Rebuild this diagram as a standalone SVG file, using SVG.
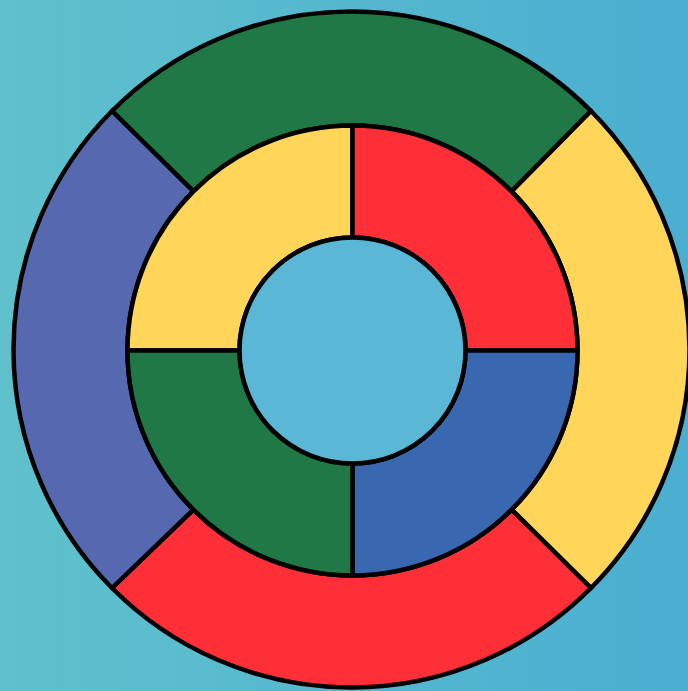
<svg xmlns="http://www.w3.org/2000/svg" width="688" height="691" viewBox="0 0 688 691">
  <defs>
    <linearGradient id="bg" x1="0" y1="0" x2="1" y2="0">
      <stop offset="0" stop-color="#60c1cc"/>
      <stop offset="1" stop-color="#4aaed1"/>
    </linearGradient>
    <style>
      .seg { stroke: #000; stroke-width: 4.5; stroke-linejoin: round; }
      .green { fill: #1f7845; }
      .yellow { fill: #ffd659; }
      .red { fill: #ff2f37; }
      .violet { fill: #5568b0; }
      .blue { fill: #3a68b0; }
      .hole { fill: #5ab7d6; }
    </style>
  </defs>
  <rect width="688" height="691" fill="url(#bg)"/>
  <g id="outer-ring">
    <g id="outer-top"><path class="seg green" d="M 112 111 A 338 338 0 0 1 591 111 L 511.6 191.4 A 225 225 0 0 0 193.4 191.4 Z"/></g>
    <g id="outer-right"><path class="seg yellow" d="M 591 111 A 338 338 0 0 1 591 588 L 511.6 509.6 A 225 225 0 0 0 511.6 191.4 Z"/></g>
    <g id="outer-bottom"><path class="seg red" d="M 591 588 A 338 338 0 0 1 112 588 L 193.4 509.6 A 225 225 0 0 0 511.6 509.6 Z"/></g>
    <g id="outer-left"><path class="seg violet" d="M 112 588 A 338 338 0 0 1 112 111 L 193.4 191.4 A 225 225 0 0 0 193.4 509.6 Z"/></g>
  </g>
  <g id="middle-ring">
    <g id="mid-top-left"><path class="seg yellow" d="M 127.5 350.5 A 225 225 0 0 1 352.5 125.5 L 352.5 237.5 A 113 113 0 0 0 239.5 350.5 Z"/></g>
    <g id="mid-top-right"><path class="seg red" d="M 352.5 125.5 A 225 225 0 0 1 577.5 350.5 L 465.5 350.5 A 113 113 0 0 0 352.5 237.5 Z"/></g>
    <g id="mid-bottom-right"><path class="seg blue" d="M 577.5 350.5 A 225 225 0 0 1 352.5 575.5 L 352.5 463.5 A 113 113 0 0 0 465.5 350.5 Z"/></g>
    <g id="mid-bottom-left"><path class="seg green" d="M 352.5 575.5 A 225 225 0 0 1 127.5 350.5 L 239.5 350.5 A 113 113 0 0 0 352.5 463.5 Z"/></g>
  </g>
  <g id="center"><circle class="seg hole" cx="352.5" cy="350.5" r="113"/></g>
</svg>
